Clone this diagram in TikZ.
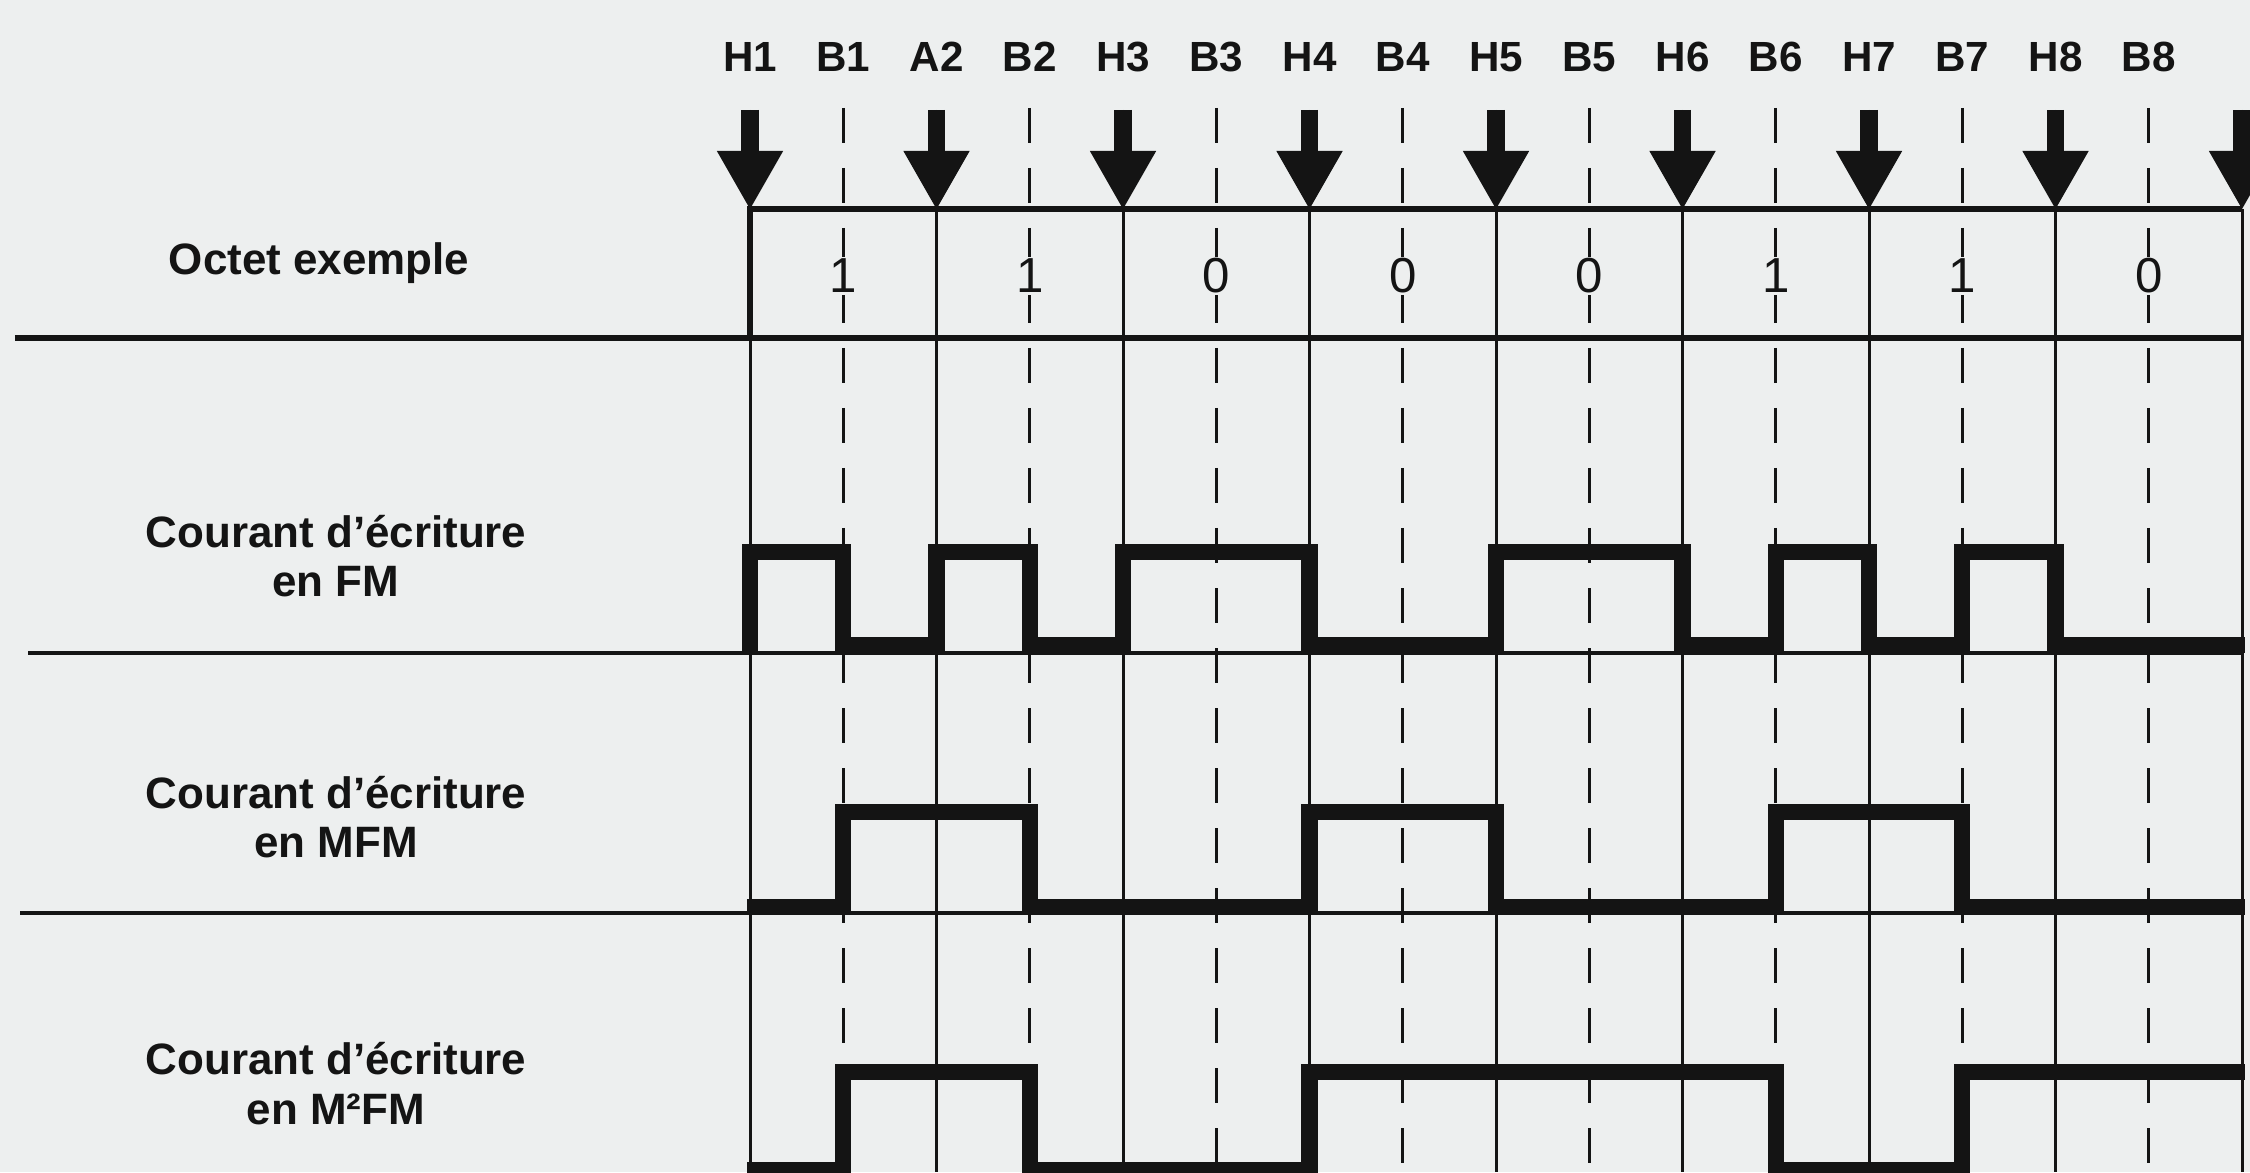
\documentclass[tikz,border=0pt]{standalone}
\usepackage{fontspec}
\setmainfont{Liberation Sans}
\setsansfont{Liberation Sans}
\usepackage{xcolor}
\usepackage{tikz}
\usetikzlibrary{arrows.meta}
\definecolor{tdInk}{HTML}{141414}
\definecolor{tdPaper}{HTML}{EDEFEF}
\tikzset{
  td diagram/.style={font=\sffamily, text=tdInk, line join=miter},
  td frame/.style={draw=tdInk, line width=1.5pt},
  td rule/.style={draw=tdInk, line width=0.9pt},
  td clock line/.style={draw=tdInk, line width=0.85pt},
  td bit line/.style={draw=tdInk, line width=0.85pt, dash pattern=on 0.35cm off 0.25cm},
  td clock arrow/.style={-{Triangle[width=0.66cm,length=0.58cm,line width=0.4pt]},
    draw=tdInk, fill=tdInk, line width=5pt},
  td wave/.style={draw=tdInk, line width=4.6pt, line cap=rect, line join=miter},
  td tag/.style={font=\sffamily\bfseries\fontsize{12}{14}\selectfont, inner sep=0pt},
  td bit/.style={font=\sffamily\fontsize{14}{16}\selectfont, fill=tdPaper, inner sep=0.5pt},
  td name/.style={font=\sffamily\bfseries\fontsize{12.5}{14}\selectfont, align=center, inner sep=0pt}
}

\begin{document}
\begin{tikzpicture}[td diagram]
\fill[tdPaper] (0,0) rectangle (22.5,11.72);
\useasboundingbox (0,0) rectangle (22.5,11.72);
\node[td name] (octet) at (3.19,9.09) {Octet exemple};
\node[td name] (fm) at (3.36,6.16) {Courant d’écriture\\en FM};
\node[td name] (mfm) at (3.36,3.545) {Courant d’écriture\\en MFM};
\node[td name] (m2fm) at (3.36,0.885) {Courant d’écriture\\en M²FM};
\coordinate (octet rule) at (0.15,8.34);
\coordinate (fm rule) at (0.28,5.19);
\coordinate (mfm rule) at (0.20,2.59);
\begin{scope}[shift={(7.5,0)},x=0.9325cm]
  \foreach \n/\t in {0/H1,2/A2,4/H3,6/H4,8/H5,10/H6,12/H7,14/H8}{
    \coordinate (\t) at (\n,9.63);
    \coordinate (\t-top) at (\n,10.62);
    \coordinate (\t-foot) at (\n,0);
    \node[td tag] (tag-\t) at (\n,11.15) {\t};
  }
  \coordinate (H9) at (16,9.63);
  \coordinate (H9-top) at (16,10.62);
  \coordinate (H9-foot) at (16,0);
  \coordinate (box sw) at (0,8.34);
  \coordinate (box se) at (16,8.34);
  \coordinate (fm end) at (16,5.19);
  \coordinate (mfm end) at (16,2.59);
  \draw[td rule] (fm rule) -- (fm end);
  \draw[td rule] (mfm rule) -- (mfm end);
  \foreach \n/\t/\v in {1/B1/1,3/B2/1,5/B3/0,7/B4/0,9/B5/0,11/B6/1,13/B7/1,15/B8/0}{
    \coordinate (\t-top) at (\n,10.64);
    \coordinate (\t-foot) at (\n,0);
    \draw[td bit line] (\t-top) -- (\t-foot);
    \node[td tag] (tag-\t) at (\n,11.15) {\t};
    \node[td bit] (bit-\t) at (\n,8.96) {\v};
  }
  \foreach \t in {H1,A2,H3,H4,H5,H6,H7,H8,H9}{
    \draw[td clock line] (\t) -- (\t-foot);
    \draw[td clock arrow] (\t-top) -- (\t);
  }
  \draw[td frame] (H9) -- (H1) -- (box sw);
  \draw[td frame] (octet rule) -- (box se);
  \draw[td wave] (0,5.27) |- (1,6.20) |- (2,5.27) |- (3,6.20) |- (4,5.27) |- (6,6.20)
    |- (8,5.27) |- (10,6.20) |- (11,5.27) |- (12,6.20) |- (13,5.27) |- (14,6.20) |- (15.95,5.27);
  \draw[td wave] (0.05,2.65) -- (1,2.65) |- (3,3.60) |- (6,2.65) |- (8,3.60) |- (11,2.65)
    |- (13,3.60) |- (15.95,2.65);
  \draw[td wave] (0.05,0.02) -- (1,0.02) |- (3,1.00) |- (6,0.02) |- (11,1.00) |- (13,0.02)
    |- (15.95,1.00);
\end{scope}
\end{tikzpicture}
\end{document}
